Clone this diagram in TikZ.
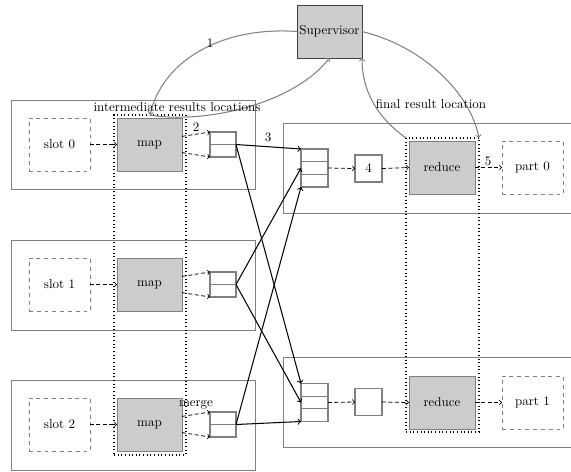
\documentclass[tikz,border=0pt]{standalone}
\usetikzlibrary{calc}
\tikzset{
  sz/.style 2 args={minimum width=#1*0.77pt, minimum height=#2*0.77pt},
  rowbox/.style={draw=gray, semithick},
  slotbox/.style={draw=gray, dashed, sz={61}{53}},
  procbox/.style={draw=gray, semithick, fill=gray!40, sz={65}{53}},
  dotbox/.style={draw=black, dotted, thick},
  mergebox/.style={draw=gray, thick, sz={26}{25}},
  stackbox/.style={draw=gray, thick, sz={27}{38}},
  smallbox/.style={draw=gray, thick, sz={27}{27}},
  dflow/.style={->, densely dashed, semithick},
  sflow/.style={->, thick},
  ctl/.style={->, gray, thick}
}
\begin{document}
\begin{tikzpicture}[x=0.77pt,y=-0.77pt,
  every node/.style={inner sep=0pt, outer sep=0pt}]
\clip (0,0) rectangle (571,471);
\useasboundingbox (0,0) rectangle (571,471);

% left rows
\draw[rowbox] (11,100) rectangle (255,189);
\draw[rowbox] (11,240) rectangle (255,330);
\draw[rowbox] (11,380) rectangle (255,470);
% right rows
\draw[rowbox] (283,123) rectangle (590,213);
\draw[rowbox] (283,357) rectangle (590,447);

% dotted groups
\node[dotbox, sz={72}{340}] (maps) at (150,285) {};
\node[dotbox, sz={73}{294}] (reds) at (442.5,285) {};

% slots and maps
\foreach \i/\y in {0/144.5,1/284.5,2/424.5}{
  \node[slotbox] (slot\i) at (59.5,\y) {slot \i};
  \node[procbox] (map\i) at (149.5,\y) {map};
  \node[mergebox] (mg\i) at (223,\y) {};
  \draw[gray, thick] (mg\i.west) -- (mg\i.east);
  \draw[dflow] (slot\i.east) -- (map\i.west);
  \draw[dflow] (map\i.14) -- (mg\i.north west);
  \draw[dflow] (map\i.-14) -- (mg\i.south west);
}

% right side
\node[stackbox] (st0) at (314.5,168) {};
\node[stackbox] (st1) at (314.5,402.5) {};
\foreach \s in {st0,st1}{
  \draw[gray, thick] ($(\s.north west)!1/3!(\s.south west)$) -- ($(\s.north east)!1/3!(\s.south east)$);
  \draw[gray, thick] ($(\s.north west)!2/3!(\s.south west)$) -- ($(\s.north east)!2/3!(\s.south east)$);
}
\node[smallbox] (bx0) at (368.5,168.5) {4};
\node[smallbox] (bx1) at (368.5,402) {};
\node[procbox, sz={66}{53}] (red0) at (442,167.5) {reduce};
\node[procbox, sz={66}{53}] (red1) at (442,402.5) {reduce};
\node[slotbox] (part0) at (532.5,167.5) {part 0};
\node[slotbox] (part1) at (532.5,402.5) {part 1};

\foreach \i in {0,1}{
  \draw[dflow] (st\i.east) -- (bx\i.west);
  \draw[dflow] (bx\i.east) -- (red\i.west);
  \draw[dflow] (red\i.east) -- (part\i.west);
}

% shuffle
\draw[sflow] (mg0.east) -- (st0.north west);
\draw[sflow] (mg0.east) -- (st1.north west);
\draw[sflow] (mg1.east) -- (st0.west);
\draw[sflow] (mg1.east) -- (st1.west);
\draw[sflow] (mg2.east) -- (st0.south west);
\draw[sflow] (mg2.east) -- (st1.south west);

% supervisor
\node[draw=black!75, semithick, fill=gray!40, sz={65}{53}] (sup) at (329.5,31.5) {Supervisor};

\draw[ctl] (sup.west) .. controls (220,26) and (162,62) .. (maps.north);
\draw[ctl] (maps.north) .. controls (200,124) and (292,106) .. (sup.south);
\draw[ctl] (sup.east) .. controls (422,46) and (470,92) .. (reds.north east);
\draw[ctl] (reds.north west) .. controls (378,118) and (362,92) .. (sup.south east);

% labels
\node (l1) at (210,43) {1};
\node (l2) at (196,127) {2};
\node (l3) at (268,137) {3};
\node (l5) at (488,161) {5};
\node (lm) at (196,405) {merge};
\node (lir) at (177,107) {intermediate results locations};
\node (lfr) at (431,104) {final result location};
\end{tikzpicture}
\end{document}
